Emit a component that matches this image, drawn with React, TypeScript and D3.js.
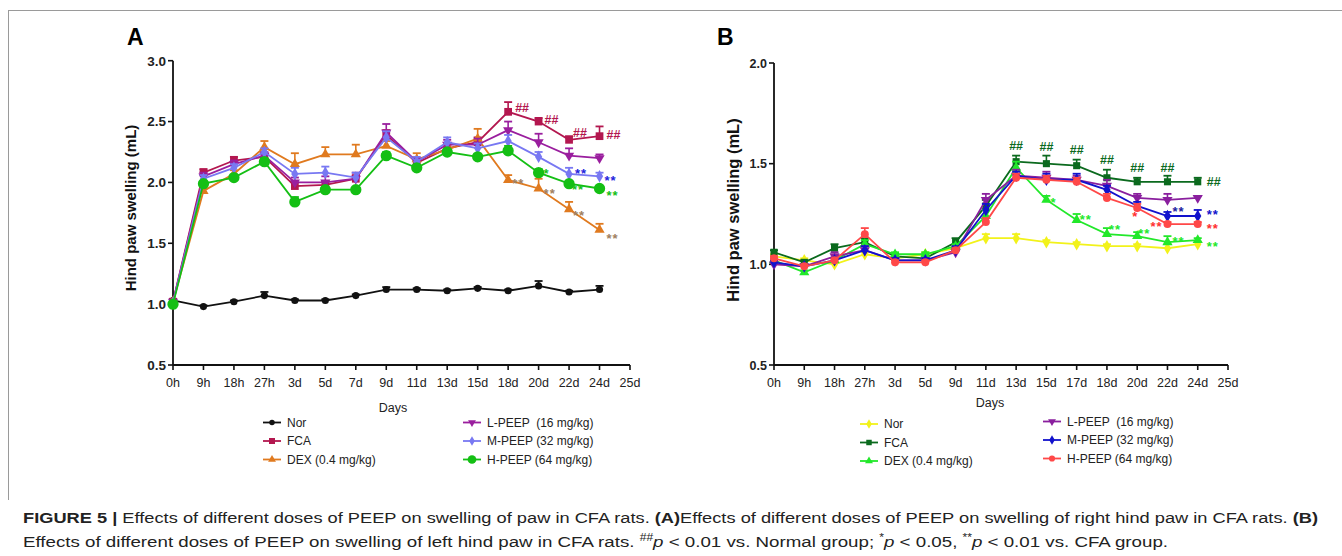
import React from 'react';
import * as d3 from 'd3';

// ---------- Panel A data ----------
const daysA = ['0h', '9h', '18h', '27h', '3d', '5d', '7d', '9d', '11d', '13d', '15d', '18d', '20d', '22d', '24d', '25d'];
const norA = [1.03, 0.98, 1.02, 1.07, 1.03, 1.03, 1.07, 1.12, 1.12, 1.11, 1.13, 1.11, 1.15, 1.10, 1.12];
const norAErr = [0.01, 0.01, 0.01, 0.03, 0.01, 0.01, 0.01, 0.02, 0.01, 0.01, 0.01, 0.01, 0.04, 0.01, 0.03];
const fcaA = [1.02, 2.08, 2.18, 2.21, 1.97, 1.98, 2.03, 2.39, 2.16, 2.28, 2.33, 2.58, 2.50, 2.35, 2.38];
const fcaAErr = [0.01, 0.03, 0.03, 0.03, 0.03, 0.03, 0.03, 0.04, 0.03, 0.03, 0.04, 0.08, 0.03, 0.03, 0.08];
const dexA = [1.02, 1.93, 2.07, 2.29, 2.15, 2.23, 2.23, 2.30, 2.19, 2.27, 2.36, 2.02, 1.95, 1.78, 1.61];
const dexAErr = [0.01, 0.02, 0.03, 0.05, 0.09, 0.06, 0.08, 0.04, 0.05, 0.03, 0.08, 0.04, 0.08, 0.06, 0.05];
const lpeepA = [1.02, 2.05, 2.15, 2.22, 2.00, 2.00, 2.03, 2.41, 2.17, 2.31, 2.31, 2.43, 2.33, 2.22, 2.20];
const lpeepAErr = [0.01, 0.03, 0.03, 0.03, 0.04, 0.05, 0.05, 0.07, 0.03, 0.04, 0.05, 0.07, 0.07, 0.06, 0.03];
const mpeepA = [1.01, 2.03, 2.12, 2.25, 2.07, 2.08, 2.04, 2.37, 2.17, 2.33, 2.28, 2.34, 2.21, 2.07, 2.05];
const mpeepAErr = [0.01, 0.03, 0.03, 0.03, 0.05, 0.05, 0.04, 0.05, 0.04, 0.04, 0.04, 0.05, 0.04, 0.05, 0.03];
const hpeepA = [1.00, 1.99, 2.04, 2.17, 1.84, 1.94, 1.94, 2.22, 2.12, 2.25, 2.21, 2.26, 2.08, 1.99, 1.95];
const hpeepAErr = [0.01, 0.02, 0.02, 0.03, 0.04, 0.02, 0.02, 0.03, 0.02, 0.02, 0.02, 0.04, 0.03, 0.02, 0.02];
const yTicksA = [0.5, 1.0, 1.5, 2.0, 2.5, 3.0];

// ---------- Panel B data ----------
const daysB = ['0h', '9h', '18h', '27h', '3d', '5d', '9d', '11d', '13d', '15d', '17d', '18d', '20d', '22d', '24d', '25d'];
const norB = [1.04, 1.02, 1.00, 1.05, 1.03, 1.05, 1.08, 1.13, 1.13, 1.11, 1.10, 1.09, 1.09, 1.08, 1.10];
const norBErr = [0.01, 0.01, 0.01, 0.01, 0.01, 0.01, 0.01, 0.02, 0.02, 0.01, 0.01, 0.01, 0.01, 0.02, 0.01];
const fcaB = [1.06, 1.01, 1.08, 1.11, 1.04, 1.03, 1.11, 1.29, 1.51, 1.50, 1.49, 1.43, 1.41, 1.41, 1.41];
const fcaBErr = [0.01, 0.01, 0.02, 0.02, 0.01, 0.02, 0.02, 0.03, 0.03, 0.04, 0.03, 0.04, 0.02, 0.03, 0.02];
const dexB = [1.02, 0.96, 1.02, 1.10, 1.05, 1.05, 1.09, 1.24, 1.48, 1.32, 1.22, 1.15, 1.14, 1.11, 1.12];
const dexBErr = [0.01, 0.01, 0.01, 0.02, 0.01, 0.01, 0.01, 0.03, 0.03, 0.02, 0.03, 0.03, 0.02, 0.03, 0.01];
const lpeepB = [1.00, 0.99, 1.04, 1.07, 1.02, 1.02, 1.06, 1.32, 1.44, 1.43, 1.42, 1.39, 1.33, 1.32, 1.33];
const lpeepBErr = [0.01, 0.01, 0.02, 0.02, 0.01, 0.01, 0.02, 0.03, 0.03, 0.03, 0.02, 0.03, 0.02, 0.03, 0.01];
const mpeepB = [1.01, 0.99, 1.02, 1.07, 1.02, 1.02, 1.07, 1.27, 1.44, 1.42, 1.42, 1.37, 1.29, 1.24, 1.24];
const mpeepBErr = [0.01, 0.01, 0.01, 0.02, 0.01, 0.01, 0.02, 0.03, 0.02, 0.03, 0.03, 0.02, 0.02, 0.02, 0.03];
const hpeepB = [1.03, 0.99, 1.02, 1.15, 1.01, 1.01, 1.07, 1.21, 1.43, 1.42, 1.41, 1.33, 1.28, 1.20, 1.20];
const hpeepBErr = [0.01, 0.01, 0.01, 0.03, 0.01, 0.01, 0.01, 0.02, 0.02, 0.02, 0.02, 0.02, 0.02, 0.01, 0.01];
const yTicksB = [0.5, 1.0, 1.5, 2.0];

const legendNames = ['Nor', 'FCA', 'DEX (0.4 mg/kg)', 'L-PEEP  (16 mg/kg)', 'M-PEEP (32 mg/kg)', 'H-PEEP (64 mg/kg)'];

type Sym = 'circle' | 'square' | 'triUp' | 'triDown' | 'diamond';
interface Series { values: number[]; errs: number[]; color: string; sym: Sym; size: number; }
interface Ann { s: number; i: number; t: string; dx: number; dy: number; color: string; anchor?: string; }

const seriesA: Series[] = [
  { values: norA, errs: norAErr, color: '#111111', sym: 'circle', size: 40 },
  { values: fcaA, errs: fcaAErr, color: '#b3174f', sym: 'square', size: 60 },
  { values: dexA, errs: dexAErr, color: '#e07a1f', sym: 'triUp', size: 45 },
  { values: lpeepA, errs: lpeepAErr, color: '#9a1e9e', sym: 'triDown', size: 45 },
  { values: mpeepA, errs: mpeepAErr, color: '#7878f2', sym: 'diamond', size: 45 },
  { values: hpeepA, errs: hpeepAErr, color: '#14bf14', sym: 'circle', size: 100 },
];
const seriesB: Series[] = [
  { values: norB, errs: norBErr, color: '#f2f21a', sym: 'diamond', size: 45 },
  { values: fcaB, errs: fcaBErr, color: '#0b6a1e', sym: 'square', size: 50 },
  { values: dexB, errs: dexBErr, color: '#22e82a', sym: 'triUp', size: 45 },
  { values: lpeepB, errs: lpeepBErr, color: '#8a1f9e', sym: 'triDown', size: 45 },
  { values: mpeepB, errs: mpeepBErr, color: '#1212cc', sym: 'diamond', size: 45 },
  { values: hpeepB, errs: hpeepBErr, color: '#ff4848', sym: 'circle', size: 50 },
];

const annA: Ann[] = [
  { s: 1, i: 11, t: '##', dx: 7, dy: -4, color: '#b3174f' },
  { s: 1, i: 12, t: '##', dx: 6, dy: -2, color: '#b3174f' },
  { s: 1, i: 13, t: '##', dx: 4, dy: -7, color: '#b3174f' },
  { s: 1, i: 14, t: '##', dx: 7, dy: -2, color: '#b3174f' },
  { s: 4, i: 13, t: '**', dx: 6, dy: -3, color: '#2222dd' },
  { s: 4, i: 14, t: '**', dx: 5, dy: 1, color: '#2222dd' },
  { s: 5, i: 12, t: '*', dx: 5, dy: -2, color: '#14bf14' },
  { s: 5, i: 13, t: '**', dx: 3, dy: 3, color: '#14bf14' },
  { s: 5, i: 14, t: '**', dx: 7, dy: 4, color: '#14bf14' },
  { s: 2, i: 11, t: '**', dx: 4, dy: 1, color: '#a08060' },
  { s: 2, i: 12, t: '**', dx: 5, dy: 2, color: '#a08060' },
  { s: 2, i: 13, t: '**', dx: 4, dy: 3, color: '#a08060' },
  { s: 2, i: 14, t: '**', dx: 7, dy: 6, color: '#a08060' },
];
const annB: Ann[] = [
  { s: 1, i: 8, t: '##', dx: 0, dy: -16, color: '#0b6a1e', anchor: 'middle' },
  { s: 1, i: 9, t: '##', dx: 0, dy: -17, color: '#0b6a1e', anchor: 'middle' },
  { s: 1, i: 10, t: '##', dx: 0, dy: -16, color: '#0b6a1e', anchor: 'middle' },
  { s: 1, i: 11, t: '##', dx: 0, dy: -18, color: '#0b6a1e', anchor: 'middle' },
  { s: 1, i: 12, t: '##', dx: 0, dy: -14, color: '#0b6a1e', anchor: 'middle' },
  { s: 1, i: 13, t: '##', dx: 0, dy: -14, color: '#0b6a1e', anchor: 'middle' },
  { s: 1, i: 14, t: '##', dx: 9, dy: 0, color: '#0b6a1e' },
  { s: 2, i: 9, t: '*', dx: 4, dy: 0, color: '#22e82a' },
  { s: 2, i: 10, t: '**', dx: 3, dy: -3, color: '#22e82a' },
  { s: 2, i: 11, t: '**', dx: 2, dy: -8, color: '#22e82a' },
  { s: 2, i: 12, t: '**', dx: 1, dy: -6, color: '#22e82a' },
  { s: 2, i: 13, t: '**', dx: 5, dy: -4, color: '#22e82a' },
  { s: 2, i: 14, t: '**', dx: 9, dy: 3, color: '#22e82a' },
  { s: 5, i: 12, t: '*', dx: -5, dy: 6, color: '#ff3030' },
  { s: 5, i: 13, t: '**', dx: -17, dy: 0, color: '#ff3030' },
  { s: 5, i: 14, t: '**', dx: 9, dy: 2, color: '#ff3030' },
  { s: 4, i: 13, t: '**', dx: 5, dy: -7, color: '#2020a0' },
  { s: 4, i: 14, t: '**', dx: 9, dy: -4, color: '#1212cc' },
];

const FONT = '"Liberation Sans", Arial, Helvetica, sans-serif';

function symPath(sym: Sym, size: number): { d: string; rot: number } {
  const map: Record<Sym, d3.SymbolType> = {
    circle: d3.symbolCircle, square: d3.symbolSquare, triUp: d3.symbolTriangle,
    triDown: d3.symbolTriangle, diamond: d3.symbolDiamond,
  };
  return { d: d3.symbol().type(map[sym]).size(size)() || '', rot: sym === 'triDown' ? 180 : 0 };
}

interface PanelCfg {
  labels: string[]; series: Series[]; ann: Ann[]; yTicks: number[];
  x0: number; x1: number; yTop: number; yMax: number; yBottom: number;
  title: string; titleX: number; titleY: number; ytitleX: number; ytitleY: number; ytitleSize: number;
  yTickSize: number; xTickSize: number; daysX: number; daysY: number; annSize: number; starSize: number;
  legX: number[]; legY: number[]; legTextDx: number;
}

function Panel({ c }: { c: PanelCfg }) {
  const x = d3.scalePoint<string>().domain(c.labels).range([c.x0, c.x1]);
  const y = d3.scaleLinear().domain([0.5, c.yMax]).range([c.yBottom, c.yTop]);
  const fmt = d3.format('.1f');
  const line = d3.line<number>().x((_, i) => x(c.labels[i])!).y((d) => y(d));
  return (
    <g fontFamily={FONT}>
      <text x={c.titleX} y={c.titleY} fontSize={23} fontWeight="bold">{c.title}</text>
      <line x1={c.x0} x2={c.x0} y1={c.yTop} y2={c.yBottom} stroke="#111" strokeWidth={1.8} />
      <line x1={c.x0} x2={c.x1} y1={c.yBottom} y2={c.yBottom} stroke="#111" strokeWidth={1.8} />
      {c.yTicks.map((t) => (
        <g key={'yt' + t}>
          <line x1={c.x0 - 5} x2={c.x0} y1={y(t)} y2={y(t)} stroke="#111" strokeWidth={1.6} />
          <text x={c.x0 - 7} y={y(t)} dy="0.36em" textAnchor="end" fontSize={c.yTickSize} fontWeight="bold" fill="#222">{fmt(t)}</text>
        </g>
      ))}
      {c.labels.map((l) => (
        <g key={'xt' + l}>
          <line x1={x(l)} x2={x(l)} y1={c.yBottom} y2={c.yBottom + 5} stroke="#111" strokeWidth={1.6} />
          <text x={x(l)} y={c.yBottom + 22} textAnchor="middle" fontSize={c.xTickSize} fill="#222">{l}</text>
        </g>
      ))}
      <text transform={`translate(${c.ytitleX},${c.ytitleY}) rotate(-90)`} textAnchor="middle" fontSize={c.ytitleSize} fontWeight="bold" fill="#111">Hind paw swelling (mL)</text>
      <text x={c.daysX} y={c.daysY} textAnchor="middle" fontSize={12.5} fill="#222">Days</text>
      {c.series.map((s, si) => {
        const sp = symPath(s.sym, s.size);
        return (
          <g key={'s' + si}>
            <path d={line(s.values) || ''} fill="none" stroke={s.color} strokeWidth={1.8} />
            {s.values.map((v, i) => {
              const px = x(c.labels[i])!;
              const top = y(v + s.errs[i]);
              return (
                <g key={i}>
                  <line x1={px} x2={px} y1={y(v)} y2={top} stroke={s.color} strokeWidth={1.6} />
                  <line x1={px - 4} x2={px + 4} y1={top} y2={top} stroke={s.color} strokeWidth={1.8} />
                  <path d={sp.d} transform={`translate(${px},${y(v)}) rotate(${sp.rot})`} fill={s.color} />
                </g>
              );
            })}
          </g>
        );
      })}
      {c.ann.map((a, k) => {
        const s = c.series[a.s];
        const px = x(c.labels[a.i])!;
        const cy = y(s.values[a.i]) + a.dy;
        const isStar = a.t.includes('*');
        const fs = isStar ? c.starSize : c.annSize;
        return (
          <text key={'a' + k} x={px + a.dx} y={cy + (isStar ? fs * 0.57 : fs * 0.36)}
            textAnchor={a.anchor || 'start'} fontSize={fs} fontWeight="bold" fill={a.color}
            letterSpacing={isStar ? 1 : 0}>{a.t}</text>
        );
      })}
      {c.series.map((s, si) => {
        const col = si < 3 ? 0 : 1;
        const lx = c.legX[col];
        const ly = c.legY[col] + (si % 3) * 18.5;
        const sp = symPath(s.sym, s.size * 0.6);
        return (
          <g key={'lg' + si}>
            <line x1={lx} x2={lx + 18} y1={ly} y2={ly} stroke={s.color} strokeWidth={1.8} />
            <path d={sp.d} transform={`translate(${lx + 9},${ly}) rotate(${sp.rot})`} fill={s.color} />
            <text x={lx + c.legTextDx} y={ly} dy="0.35em" fontSize={12} fill="#222" xmlSpace="preserve">{legendNames[si]}</text>
          </g>
        );
      })}
    </g>
  );
}

const cfgA: PanelCfg = {
  labels: daysA, series: seriesA, ann: annA, yTicks: yTicksA,
  x0: 173, x1: 630, yTop: 60.7, yMax: 3.0, yBottom: 365,
  title: 'A', titleX: 127, titleY: 45, ytitleX: 136, ytitleY: 208, ytitleSize: 15,
  yTickSize: 13.5, xTickSize: 12.5, daysX: 393, daysY: 412, annSize: 12.5, starSize: 13,
  legX: [263, 463], legY: [422.5, 422.5], legTextDx: 24,
};
const cfgB: PanelCfg = {
  labels: daysB, series: seriesB, ann: annB, yTicks: yTicksB,
  x0: 774, x1: 1228, yTop: 63, yMax: 2.0, yBottom: 365,
  title: 'B', titleX: 717, titleY: 45, ytitleX: 739, ytitleY: 210, ytitleSize: 16.5,
  yTickSize: 12.5, xTickSize: 12.5, daysX: 990, daysY: 407, annSize: 12.5, starSize: 13,
  legX: [860, 1043], legY: [424, 421.5], legTextDx: 24,
};

export default function App() {
  return (
    <svg width={1342} height={556} style={{ position: 'absolute', left: 0, top: 0, background: '#fff' }}>
      <rect x={0} y={0} width={1342} height={556} fill="#fff" />
      <line x1={8} x2={1342} y1={10.5} y2={10.5} stroke="#9a9a9a" strokeWidth={1} />
      <line x1={8.5} x2={8.5} y1={10} y2={500} stroke="#9a9a9a" strokeWidth={1} />
      <Panel c={cfgA} />
      <Panel c={cfgB} />
      <g fontFamily='"Liberation Sans Narrow", "Liberation Sans", Arial, sans-serif' fontSize={15.5} fill="#222">
        <text x={23} y={523} textLength={1295} lengthAdjust="spacingAndGlyphs">
          <tspan fontWeight="bold">FIGURE 5 | </tspan>
          <tspan>Effects of different doses of PEEP on swelling of paw in CFA rats. </tspan>
          <tspan fontWeight="bold">(A)</tspan>
          <tspan>Effects of different doses of PEEP on swelling of right hind paw in CFA rats. </tspan>
          <tspan fontWeight="bold">(B)</tspan>
        </text>
        <text x={23} y={547} textLength={1145} lengthAdjust="spacingAndGlyphs">
          <tspan>Effects of different doses of PEEP on swelling of left hind paw in CFA rats. </tspan>
          <tspan fontSize={10} dy={-6}>##</tspan>
          <tspan fontStyle="italic" dy={6}>p</tspan>
          <tspan> &lt; 0.01 vs. Normal group; </tspan>
          <tspan fontSize={10} dy={-6}>*</tspan>
          <tspan fontStyle="italic" dy={6}>p</tspan>
          <tspan> &lt; 0.05, </tspan>
          <tspan fontSize={10} dy={-6}>**</tspan>
          <tspan fontStyle="italic" dy={6}>p</tspan>
          <tspan> &lt; 0.01 vs. CFA group.</tspan>
        </text>
      </g>
    </svg>
  );
}
